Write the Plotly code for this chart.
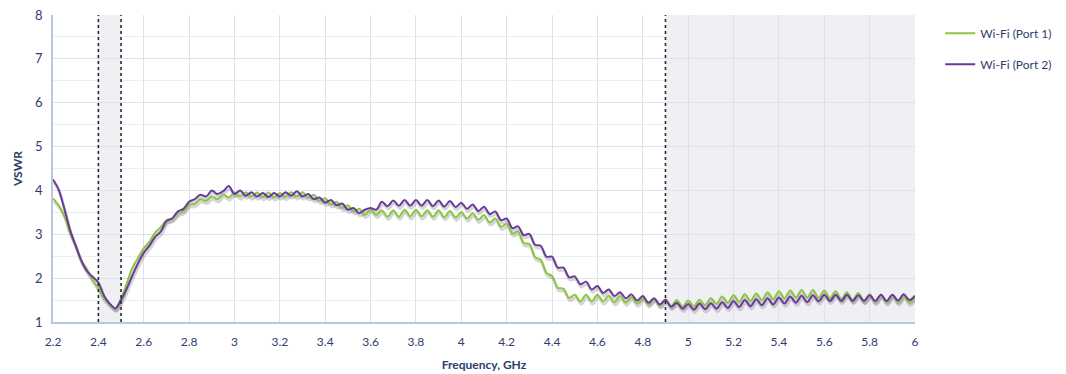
import plotly.graph_objects as go

# Sweep: 2.2 GHz to 6.0 GHz in 25 MHz steps (8 samples per 0.2 GHz row)
F_START = 2.2
F_STEP = 0.025

VSWR_PORT1 = [
    3.82, 3.66, 3.42, 3.03, 2.74, 2.40, 2.20, 1.95,   # 2.2
    1.77, 1.53, 1.41, 1.31, 1.54, 1.88, 2.24, 2.46,   # 2.4
    2.68, 2.83, 3.04, 3.16, 3.32, 3.36, 3.48, 3.53,   # 2.6
    3.68, 3.69, 3.80, 3.76, 3.86, 3.80, 3.91, 3.84,   # 2.8
    3.95, 3.86, 3.96, 3.86, 3.95, 3.85, 3.95, 3.84,   # 3.0
    3.94, 3.85, 3.96, 3.86, 3.96, 3.84, 3.90, 3.76,   # 3.2
    3.82, 3.68, 3.74, 3.60, 3.66, 3.52, 3.58, 3.44,   # 3.4
    3.56, 3.44, 3.54, 3.40, 3.55, 3.40, 3.56, 3.41,   # 3.6
    3.56, 3.41, 3.55, 3.40, 3.55, 3.39, 3.53, 3.38,   # 3.8
    3.51, 3.36, 3.48, 3.33, 3.44, 3.27, 3.36, 3.17,   # 4.0
    3.24, 3.02, 3.06, 2.80, 2.78, 2.48, 2.42, 2.12,   # 4.2
    2.05, 1.78, 1.76, 1.55, 1.62, 1.47, 1.62, 1.47,   # 4.4
    1.62, 1.47, 1.60, 1.45, 1.59, 1.44, 1.57, 1.42,   # 4.6
    1.55, 1.40, 1.53, 1.38, 1.52, 1.36, 1.50, 1.35,   # 4.8
    1.49, 1.36, 1.51, 1.38, 1.54, 1.41, 1.58, 1.44,   # 5.0
    1.61, 1.46, 1.63, 1.48, 1.65, 1.50, 1.68, 1.52,   # 5.2
    1.70, 1.54, 1.72, 1.56, 1.73, 1.56, 1.73, 1.55,   # 5.4
    1.72, 1.54, 1.70, 1.52, 1.68, 1.50, 1.66, 1.48,   # 5.6
    1.63, 1.46, 1.62, 1.45, 1.61, 1.45, 1.60, 1.44,   # 5.8
    1.58,                                             # 6.0
]

VSWR_PORT2 = [
    4.25, 4.02, 3.58, 3.10, 2.74, 2.40, 2.16, 2.03,   # 2.2
    1.90, 1.60, 1.42, 1.31, 1.50, 1.76, 2.06, 2.34,   # 2.4
    2.58, 2.74, 2.94, 3.06, 3.30, 3.36, 3.52, 3.58,   # 2.6
    3.74, 3.80, 3.90, 3.86, 4.00, 3.92, 3.98, 4.10,   # 2.8
    3.92, 4.00, 3.88, 3.96, 3.86, 3.94, 3.85, 3.94,   # 3.0
    3.86, 3.96, 3.88, 3.98, 3.86, 3.92, 3.80, 3.84,   # 3.2
    3.72, 3.78, 3.66, 3.70, 3.56, 3.60, 3.48, 3.56,   # 3.4
    3.60, 3.56, 3.74, 3.64, 3.77, 3.65, 3.78, 3.65,   # 3.6
    3.78, 3.65, 3.78, 3.64, 3.77, 3.63, 3.76, 3.62,   # 3.8
    3.72, 3.58, 3.68, 3.53, 3.63, 3.46, 3.52, 3.32,   # 4.0
    3.36, 3.14, 3.18, 2.98, 3.01, 2.76, 2.74, 2.49,   # 4.2
    2.49, 2.24, 2.24, 2.02, 2.04, 1.86, 1.92, 1.74,   # 4.4
    1.82, 1.66, 1.74, 1.59, 1.68, 1.54, 1.63, 1.49,   # 4.6
    1.59, 1.44, 1.54, 1.40, 1.50, 1.35, 1.44, 1.30,   # 4.8
    1.41, 1.28, 1.42, 1.29, 1.43, 1.30, 1.45, 1.32,   # 5.0
    1.48, 1.34, 1.50, 1.36, 1.52, 1.38, 1.54, 1.40,   # 5.2
    1.56, 1.42, 1.58, 1.44, 1.60, 1.45, 1.61, 1.47,   # 5.4
    1.62, 1.48, 1.62, 1.48, 1.62, 1.48, 1.61, 1.48,   # 5.6
    1.61, 1.48, 1.62, 1.48, 1.62, 1.49, 1.63, 1.50,   # 5.8
    1.60,                                             # 6.0
]

SERIES_NAMES = ["Wi-Fi (Port 1)", "Wi-Fi (Port 2)"]
SERIES_COLORS = ["#8cc63f", "#6a3a9a"]

# Highlighted bands (GHz) and their marker lines
BANDS = [(2.4, 2.5), (4.9, 6.0)]
MARKERS = [2.4, 2.5, 4.9]

X_TICKS = [2.2, 2.4, 2.6, 2.8, 3, 3.2, 3.4, 3.6, 3.8, 4, 4.2, 4.4, 4.6, 4.8,
           5, 5.2, 5.4, 5.6, 5.8, 6]
X_TICK_TEXT = ["2.2", "2.4", "2.6", "2.8", "3", "3.2", "3.4", "3.6", "3.8", "4",
               "4.2", "4.4", "4.6", "4.8", "5", "5.2", "5.4", "5.6", "5.8", "6"]
Y_TICKS = [1, 2, 3, 4, 5, 6, 7, 8]

assert len(VSWR_PORT1) == len(VSWR_PORT2)
freq = [round(F_START + F_STEP * i, 3) for i in range(len(VSWR_PORT1))]

FONT = "Lato, Open Sans, sans-serif"
TEXT_COLOR = "#2f3d6b"
GRID = "#dbe3ef"
GRID_MINOR = "#eaeef5"
AXIS = "#b9c8de"

fig = go.Figure()

# soft drop shadow under each curve
for vals in (VSWR_PORT1, VSWR_PORT2):
    fig.add_trace(go.Scatter(
        x=[f + 0.004 for f in freq], y=[v - 0.06 for v in vals],
        mode="lines", line=dict(color="rgba(90,90,90,0.25)", width=3,
                                shape="spline", smoothing=0.9),
        hoverinfo="skip", showlegend=False,
    ))

for i, (name, vals, color) in enumerate(zip(SERIES_NAMES, (VSWR_PORT1, VSWR_PORT2), SERIES_COLORS)):
    fig.add_trace(go.Scatter(
        x=freq, y=vals, name=name, mode="lines",
        line=dict(color=color, width=2, shape="spline", smoothing=0.9),
        legendgroup=f"g{i}",
    ))

shapes = []
for x0, x1 in BANDS:
    shapes.append(dict(type="rect", xref="x", yref="y", x0=x0, x1=x1, y0=1, y1=8,
                       fillcolor="#f0f0f4", line=dict(width=0), layer="below"))
for xm in MARKERS:
    shapes.append(dict(type="line", xref="x", yref="y", x0=xm, x1=xm, y0=1, y1=8,
                       line=dict(color="#2b2b2b", width=1.6, dash="dot"), layer="above"))

fig.update_layout(
    width=1066, height=374,
    margin=dict(l=53, r=151, t=15, b=52, autoexpand=False),
    paper_bgcolor="white", plot_bgcolor="white",
    font=dict(family=FONT, color=TEXT_COLOR, size=12),
    shapes=shapes,
    showlegend=True,
    legend=dict(xref="container", yref="container", x=0.882, y=0.95,
                xanchor="left", yanchor="top",
                font=dict(family=FONT, size=12, color=TEXT_COLOR),
                tracegroupgap=12, itemwidth=30, bgcolor="rgba(0,0,0,0)"),
    xaxis=dict(
        range=[2.2, 6], tickvals=X_TICKS, ticktext=X_TICK_TEXT,
        showgrid=True, gridcolor=GRID, gridwidth=1,
        showline=True, linecolor=AXIS, linewidth=1.5,
        ticks="", zeroline=False, ticklabelstandoff=8,
        tickfont=dict(family=FONT, size=12, color=TEXT_COLOR),
        title=dict(text="<b>Frequency, GHz</b>", standoff=12,
                   font=dict(family=FONT, size=12, color=TEXT_COLOR)),
    ),
    yaxis=dict(
        range=[1, 8], tickvals=Y_TICKS,
        showgrid=True, gridcolor=GRID, gridwidth=1,
        minor=dict(dtick=0.5, showgrid=True, gridcolor=GRID_MINOR, gridwidth=1),
        showline=True, linecolor=AXIS, linewidth=1.5,
        ticks="", zeroline=False, ticklabelstandoff=6,
        tickfont=dict(family=FONT, size=13, color=TEXT_COLOR),
        title=dict(text="<b>VSWR</b>", standoff=10,
                   font=dict(family=FONT, size=12, color=TEXT_COLOR)),
    ),
)

fig.write_html("out.html")
